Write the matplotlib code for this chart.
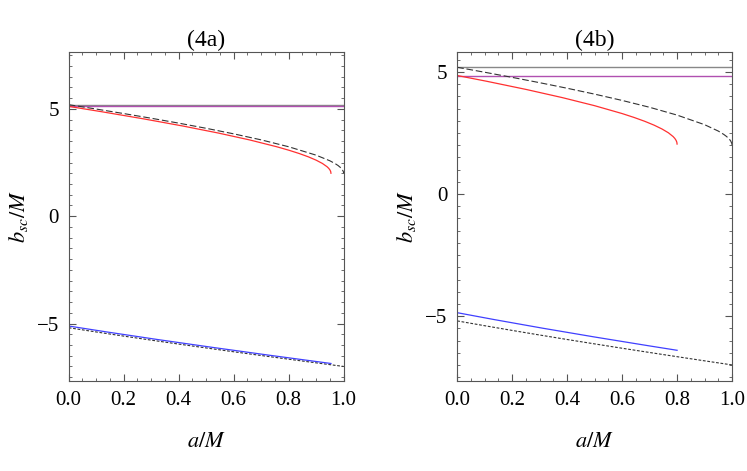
import numpy as np
import matplotlib
matplotlib.use('Agg')
import matplotlib.pyplot as plt
from matplotlib.ticker import MultipleLocator, FormatStrFormatter, FuncFormatter

plt.rcParams['font.family'] = 'serif'
plt.rcParams['font.serif'] = ['Liberation Serif', 'DejaVu Serif']
plt.rcParams['mathtext.fontset'] = 'stix'

# Kerr reference curves (same in both panels)
a_kerr_pro = [0.0, 0.1, 0.2, 0.3, 0.4, 0.5, 0.6, 0.7, 0.8, 0.9, 0.95, 0.97, 0.98, 0.99, 0.995, 0.999, 0.9999, 1.0]
b_kerr_pro = [5.196, 4.993, 4.783, 4.565, 4.337, 4.096, 3.838, 3.557, 3.237, 2.844, 2.582, 2.444, 2.360, 2.252,
              2.177, 2.078, 2.025, 2.0]
a_kerr_ret = [0.0, 0.1, 0.2, 0.3, 0.4, 0.5, 0.6, 0.7, 0.8, 0.9, 1.0]
b_kerr_ret = [-5.196, -5.393, -5.586, -5.774, -5.958, -6.138, -6.316, -6.490, -6.662, -6.832, -7.0]
b_schw = 5.196

# panel (4a)
a_pro_4a = [0.0, 0.1154, 0.2714, 0.4145, 0.5439, 0.6585, 0.7571, 0.7999, 0.8382, 0.8716, 0.8999, 0.9227,
            0.9397, 0.9458, 0.9503, 0.9530, 0.9539]
b_pro_4a = [5.117, 4.878, 4.538, 4.204, 3.876, 3.553, 3.235, 3.078, 2.922, 2.767, 2.612, 2.459,
            2.306, 2.230, 2.154, 2.078, 2.002]
a_ret_4a = [0.0, 0.1412, 0.3265, 0.5226, 0.7290, 0.9452, 0.954]
b_ret_4a = [-5.117, -5.398, -5.752, -6.111, -6.476, -6.847, -6.863]
b_static_4a = 5.117

# panel (4b)
a_pro_4b = [0.0, 0.1069, 0.2521, 0.3834, 0.4998, 0.6, 0.6436, 0.6825, 0.7165, 0.7452, 0.7684, 0.7856,
            0.7918, 0.7963, 0.7991, 0.8]
b_pro_4b = [4.859, 4.624, 4.285, 3.951, 3.623, 3.300, 3.140, 2.982, 2.824, 2.667, 2.512, 2.357,
            2.280, 2.203, 2.126, 2.05]
a_ret_4b = [0.0, 0.1349, 0.3111, 0.4987, 0.6970, 0.8]
b_ret_4b = [-4.859, -5.142, -5.495, -5.853, -6.216, -6.4]
b_static_4b = 4.859

panels = [
    ('(4a)', a_pro_4a, b_pro_4a, a_ret_4a, b_ret_4a, b_static_4a, (-7.68, 7.66), [0.092, 0.191, 0.368, 0.699]),
    ('(4b)', a_pro_4b, b_pro_4b, a_ret_4b, b_ret_4b, b_static_4b, (-7.66, 5.83), [0.612, 0.191, 0.368, 0.699]),
]

fig = plt.figure(figsize=(7.47, 4.71), dpi=100)
frame_col = '#555555'

for title, ap, bp, ar, br, bs, ylim, rect in panels:
    ax = fig.add_axes(rect)
    ax.axhline(b_schw, color='#888888', lw=1.0)
    ax.axhline(bs, color='#b050b0', lw=1.0)
    ax.plot(a_kerr_pro, b_kerr_pro, color='#333333', lw=0.8, dashes=(6, 2.5))
    ax.plot(a_kerr_ret, b_kerr_ret, color='#333333', lw=0.8, dashes=(2.5, 1.5))
    ax.plot(ap, bp, color='#ff3030', lw=0.9)
    ax.plot(ar, br, color='#4040ff', lw=0.9)

    ax.set_xlim(0, 1)
    ax.set_ylim(*ylim)
    ax.xaxis.set_major_locator(MultipleLocator(0.2))
    ax.xaxis.set_minor_locator(MultipleLocator(0.05))
    ax.yaxis.set_major_locator(MultipleLocator(5))
    ax.yaxis.set_minor_locator(MultipleLocator(0.5))
    ax.tick_params(which='both', direction='in', top=True, right=True,
                   color=frame_col, labelsize=15, pad=7)
    ax.tick_params(which='major', length=5, width=0.8)
    ax.tick_params(which='minor', length=2.5, width=0.6)
    ax.xaxis.set_major_formatter(FormatStrFormatter('%.1f'))
    ax.yaxis.set_major_formatter(FuncFormatter(
        lambda v, p: ('\u2212%d' % abs(v)) if v < 0 else '%d' % v))
    for s in ax.spines.values():
        s.set_color(frame_col)
        s.set_linewidth(0.8)

    ax.set_title(title, fontsize=17, pad=4)
    ax.set_xlabel('$a/M$', fontsize=16, labelpad=17)
    ax.set_ylabel('$b_{sc}/M$', fontsize=16, labelpad=5)

fig.savefig('out.png', dpi=100)
